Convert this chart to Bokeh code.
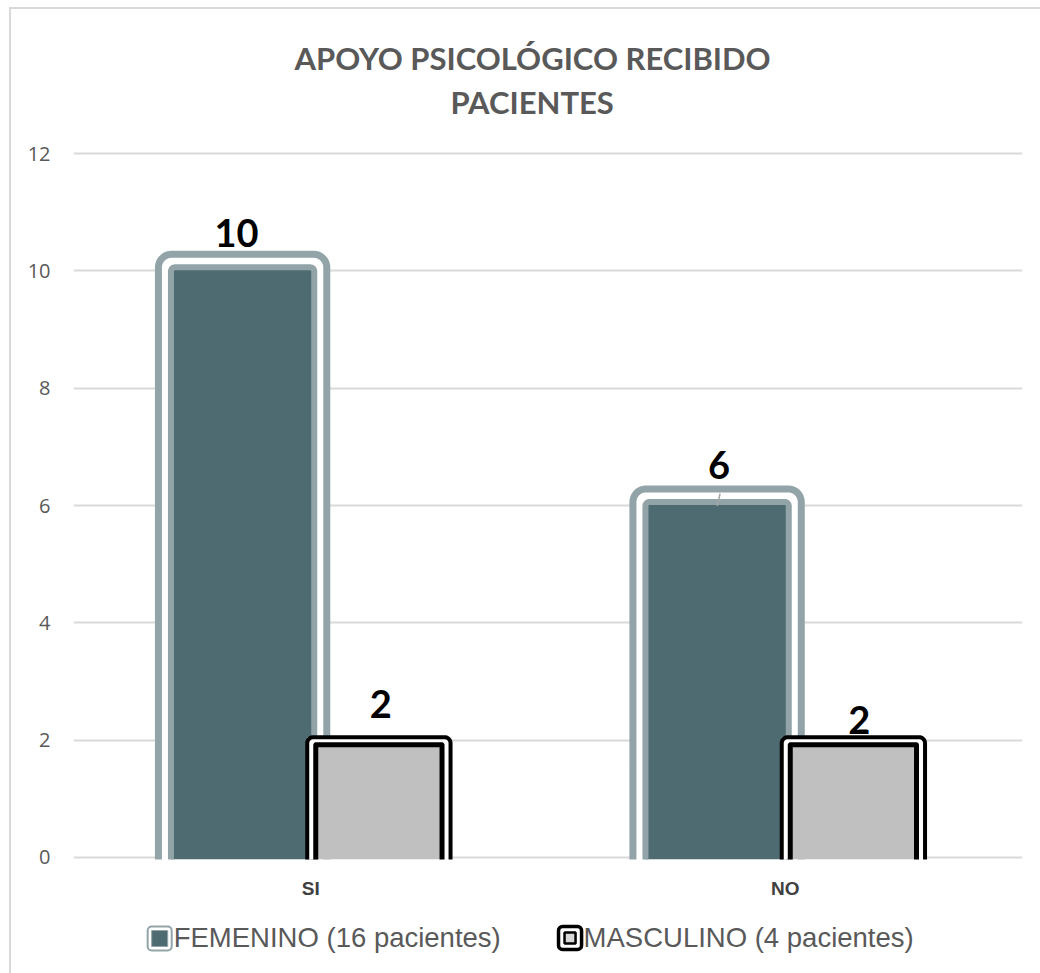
import math
from bokeh.plotting import figure
from bokeh.layouts import column
from bokeh.models import ColumnDataSource, FactorRange, Range1d, Title
from bokeh.transform import dodge
from bokeh.core.properties import value
from bokeh.embed import file_html
from bokeh.resources import INLINE

# ---------------- data ----------------
categories = ["SI", "NO"]
femenino = [10, 6]
masculino = [2, 2]
series_names = ["FEMENINO (16 pacientes)", "MASCULINO (4 pacientes)"]
title_lines = ["APOYO PSICOLÓGICO RECIBIDO", "PACIENTES"]
y_ticks = [0, 2, 4, 6, 8, 10, 12]

# ---------------- style ----------------
FEM_FILL = "#4e6b72"
FEM_LINE = "#93a4a8"
MASC_FILL = "#c0c0c0"
TEXT_GRAY = "#595959"
GRID = "#d9d9d9"
BORDER = "2px solid #d9d9d9"

MX, MY = 9, 7                       # outer margin before the chart border
OX, OY = 11, 9                      # page position of the canvas origin
LEGEND_TOP = 905                    # page y where the legend strip starts
CANVAS_W = 1040 - OX
CANVAS_H = LEGEND_TOP - OY
Y_MAX = 12
PX_Y = (855 - 153) / Y_MAX          # px per y unit
PAD = 2                             # px of frame beyond 0 and 12
FRAME_L, FRAME_R = 73 - OX, 1020 - OX
FRAME_T, FRAME_B = 153 - PAD - OY, 855 + PAD - OY
FRAME_W = FRAME_R - FRAME_L
FRAME_H = FRAME_B - FRAME_T
PX_X = FRAME_W / len(categories)


def uy(px):
    return px / PX_Y


def ux(px):
    return px / PX_X


BASE = -uy(6)
FEM_OFF = ux(-68)
MASC_OFF = ux(68)
fem_lift = [38, 41]
masc_lift = [36, 20]
fem_shift = [-6, 2]
masc_shift = [2, 6]
fem_leader = [False, True]

p = figure(
    x_range=FactorRange(*categories),
    y_range=Range1d(-uy(PAD), Y_MAX + uy(PAD)),
    frame_width=FRAME_W,
    frame_height=FRAME_H,
    min_border_left=FRAME_L,
    min_border_right=CANVAS_W - FRAME_R,
    min_border_top=FRAME_T,
    min_border_bottom=CANVAS_H - FRAME_B,
    output_backend="svg",
    toolbar_location=None,
)
p.margin = (MY, 0, 0, MX)
p.styles = {"border-left": BORDER, "border-top": BORDER}
p.outline_line_color = None
p.background_fill_color = "white"
p.border_fill_color = "white"


def ring_paths(values, offset, width_px, top_shift_px, radius_px):
    xs, ys = [], []
    half = ux(width_px) / 2
    rx, ry = ux(radius_px), uy(radius_px)
    n = 10
    for i, v in enumerate(values):
        c = i + 0.5 + offset
        l, r = c - half, c + half
        top = v + uy(top_shift_px)
        px, py = [l], [BASE]
        for k in range(n + 1):
            a = math.pi - (math.pi / 2) * k / n
            px.append(l + rx + rx * math.cos(a))
            py.append(top - ry + ry * math.sin(a))
        for k in range(n + 1):
            a = math.pi / 2 - (math.pi / 2) * k / n
            px.append(r - rx + rx * math.cos(a))
            py.append(top - ry + ry * math.sin(a))
        px.append(r)
        py.append(BASE)
        xs.append(px)
        ys.append(py)
    return xs, ys


def bar_fill(values, offset, width_px, top_shift_px, color):
    src = ColumnDataSource(dict(cat=categories, top=[v + uy(top_shift_px) for v in values]))
    p.vbar(x=dodge("cat", offset, range=p.x_range), top="top", bottom=BASE,
           width=ux(width_px), source=src, fill_color=color, line_color=None)


def bar_ring(values, offset, width_px, top_shift_px, radius_px, color, lw):
    xs, ys = ring_paths(values, offset, width_px, top_shift_px, radius_px)
    p.multi_line(xs=xs, ys=ys, line_color=color, line_width=lw, line_join="miter")


# Femenino: outer ring, white gap, inner bar
bar_fill(femenino, FEM_OFF, 168, 16.5, "white")
bar_ring(femenino, FEM_OFF, 168, 16.5, 13, FEM_LINE, 7)
bar_fill(femenino, FEM_OFF, 143, 3.5, FEM_FILL)
bar_ring(femenino, FEM_OFF, 143, 3.5, 4, FEM_LINE, 6)

# Masculino: black outer ring, white gap, inner bar
bar_fill(masculino, MASC_OFF, 143, 3, "white")
bar_ring(masculino, MASC_OFF, 143, 3, 6, "black", 4)
bar_fill(masculino, MASC_OFF, 126, -4.5, MASC_FILL)
bar_ring(masculino, MASC_OFF, 126, -4.5, 0.5, "black", 5)

# small leader line of the "6" label
lx = [i + 0.5 + FEM_OFF for i, flag in enumerate(fem_leader) if flag]
lv = [v for v, flag in zip(femenino, fem_leader) if flag]
p.segment(x0=[x + ux(3) for x in lx], y0=[v + uy(12) for v in lv],
          x1=lx, y1=[v - uy(0.5) for v in lv], line_color="#a6a6a6", line_width=1.5)

# value labels
for vals, off, lift, shift in ((femenino, FEM_OFF, fem_lift, fem_shift),
                               (masculino, MASC_OFF, masc_lift, masc_shift)):
    src = ColumnDataSource(dict(cat=categories, val=vals, label=[str(v) for v in vals],
                                yoff=[-l for l in lift], xoff=shift))
    p.text(x=dodge("cat", off, range=p.x_range), y="val", text="label", source=src,
           x_offset="xoff", y_offset="yoff", text_align="center", text_baseline="alphabetic",
           text_font=value("Lato"), text_font_style="bold", text_font_size="38px",
           text_color="black")

# axes
p.yaxis.ticker = y_ticks
p.yaxis.axis_line_color = None
p.yaxis.major_tick_line_color = None
p.yaxis.major_tick_out = 0
p.yaxis.minor_tick_line_color = None
p.yaxis.major_label_text_font = "Open Sans"
p.yaxis.major_label_text_font_size = "20px"
p.yaxis.major_label_text_color = TEXT_GRAY
p.yaxis.major_label_standoff = 23

p.xaxis.axis_line_color = None
p.xaxis.major_tick_line_color = None
p.xaxis.major_tick_out = 0
p.xaxis.minor_tick_line_color = None
p.xaxis.major_label_text_font = "Liberation Sans"
p.xaxis.major_label_text_font_style = "bold"
p.xaxis.major_label_text_font_size = "19px"
p.xaxis.major_label_text_color = "#404040"
p.xaxis.major_label_standoff = 18

p.xgrid.grid_line_color = None
p.ygrid.ticker = y_ticks
p.ygrid.grid_line_color = GRID
p.ygrid.grid_line_width = 2

# title: two lines, each centred near x = 531 of the page
TITLE_CX = 531 - 73
title_font = dict(text_font="Lato", text_font_style="bold", text_font_size="31px",
                  text_color=TEXT_GRAY)
p.title = Title(text=title_lines[0], align="left", offset=TITLE_CX - 237, standoff=-54, **title_font)
p.add_layout(Title(text=title_lines[1], align="left", offset=TITLE_CX - 81, standoff=62,
                   **title_font), "above")

# ---------------- legend strip (page-pixel coordinates, frame aligned with p) ----------------
LEG_H = 973 - LEGEND_TOP
lp = figure(
    title=None,
    frame_width=FRAME_W, frame_height=LEG_H,
    min_border_left=FRAME_L, min_border_right=CANVAS_W - FRAME_R,
    min_border_top=0, min_border_bottom=0,
    x_range=Range1d(73, 1020), y_range=Range1d(973, LEGEND_TOP),
    x_axis_type=None, y_axis_type=None,
    output_backend="svg", toolbar_location=None,
)
lp.margin = (0, 0, 0, MX)
lp.styles = {"border-left": BORDER}
lp.outline_line_color = None
lp.background_fill_color = "white"
lp.border_fill_color = "white"
lp.grid.visible = False

# swatches: [outer box, inner box] for each series (page pixels)
sw_outer = dict(l=[147, 557], r=[171, 580], t=[926, 926], b=[950, 949])
sw_inner = dict(l=[151, 563], r=[167, 574], t=[930, 932], b=[946, 943])
lp.quad(left=sw_outer["l"], right=sw_outer["r"], top=sw_outer["t"], bottom=sw_outer["b"],
        fill_color="white", line_color=[FEM_LINE, "black"], line_width=[2, 3.5], border_radius=4)
lp.quad(left=sw_inner["l"], right=sw_inner["r"], top=sw_inner["t"], bottom=sw_inner["b"],
        fill_color=[FEM_FILL, "#d9d9d9"], line_color=[FEM_LINE, "black"], line_width=[1, 2.5])
lp.text(x=[173, 582], y=[937, 937], text=series_names, text_align="left",
        text_baseline="alphabetic", text_font=value("Liberation Sans"),
        text_font_size="27.5px", text_color=TEXT_GRAY)

layout = column(p, lp, spacing=0)
open("out.html", "w").write(file_html(layout, INLINE))
